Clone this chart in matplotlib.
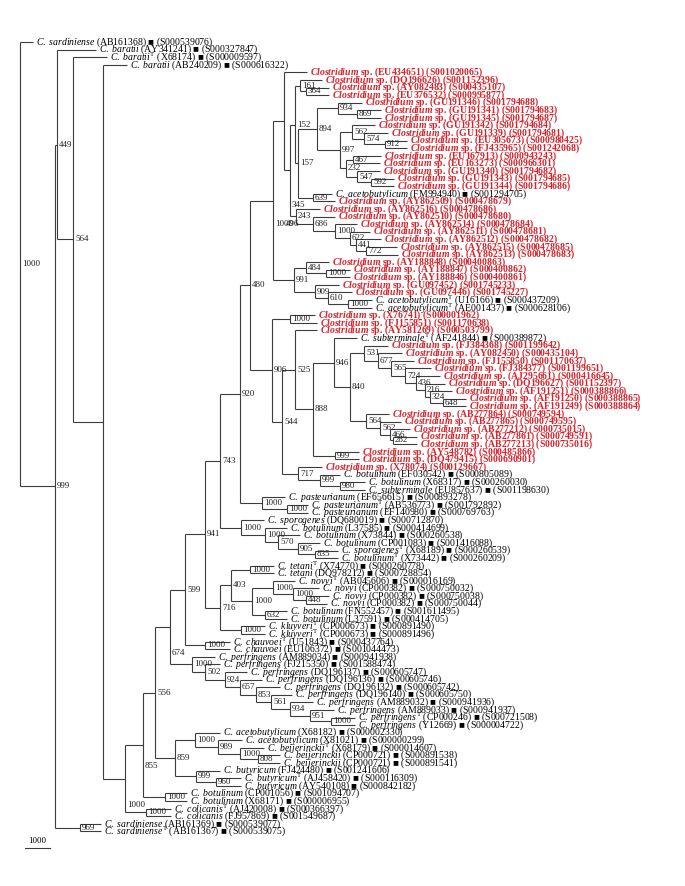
import re
import matplotlib
matplotlib.use("Agg")
import matplotlib.pyplot as plt

plt.rcParams['font.family'] = ['Liberation Serif', 'DejaVu Serif']
plt.rcParams['mathtext.fontset'] = 'custom'
plt.rcParams['mathtext.rm'] = 'Liberation Serif'
plt.rcParams['mathtext.it'] = 'Liberation Serif:italic'
plt.rcParams['mathtext.bf'] = 'Liberation Serif:bold'
try:
    plt.rcParams['mathtext.bfit'] = 'Liberation Serif:italic:bold'
except KeyError:
    pass

# ---------------- leaf data (top to bottom) ----------------
leaf_species = (
    ["C. sardiniense", "C. baratii", "C. baratii", "C. baratii"]
    + ["Clostridium sp."] * 16
    + ["C. acetobutylicum"]
    + ["Clostridium sp."] * 13
    + ["C. acetobutylicum", "C. acetobutylicum"]
    + ["Clostridium sp."] * 3
    + ["C. subterminale"]
    + ["Clostridium sp."] * 17
    + ["C. botulinum", "C. botulinum", "C. subterminale",
       "C. pasteurianum", "C. pasteurianum", "C. pasteurianum",
       "C. sporogenes", "C. botulinum", "C. botulinum", "C. botulinum",
       "C. sporogenes", "C. botulinum", "C. tetani", "C. tetani",
       "C. novyi", "C. novyi", "C. novyi", "C. novyi",
       "C. botulinum", "C. botulinum", "C. kluyveri", "C. kluyveri",
       "C. chauvoei", "C. chauvoei"]
    + ["C. perfringens"] * 10
    + ["C. acetobutylicum", "C. acetobutylicum", "C. beijerinckii",
       "C. beijerinckii", "C. beijerinckii", "C. butyricum", "C. butyricum",
       "C. butyricum", "C. botulinum", "C. botulinum", "C. colicanis",
       "C. colicanis", "C. sardiniense", "C. sardiniense"]
)
leaf_type_strain = [0, 0, 1, 0] + [0] * 16 + [0] + [0] * 13 + [1, 1] + [0] * 3 + [1] + [0] * 17 + [
    0, 0, 0, 0, 1, 0, 0, 0, 0, 0, 1, 1, 1, 0, 1, 0, 0, 0, 0, 0, 1, 1, 1, 0,
    0, 0, 0, 0, 0, 0, 0, 0, 1, 0,
    0, 0, 1, 0, 0, 0, 1, 0, 0, 0, 1, 0, 0, 1]
leaf_accession = [
    "AB161368", "AY341241", "X68174", "AB240209", "EU434651", "DQ196626", "AY082483",
    "EU376532", "GU191346", "GU191341", "GU191345", "GU191342", "GU191339", "EU305673",
    "FJ435965", "EU167913", "EU163273", "GU191340", "GU191343", "GU191344", "FM994940",
    "AY862509", "AY862516", "AY862510", "AY862514", "AY862511", "AY862512", "AY862515",
    "AY862513", "AY188848", "AY188847", "AY188846", "GU097452", "GU097446", "U16166",
    "AE001437", "X76741", "FJ155851", "AY581269", "AF241844", "FJ384368", "AY082450",
    "FJ155850", "FJ384377", "AJ295661", "DQ196627", "AF191251", "AF191250", "AF191249",
    "AB277864", "AB277865", "AB277212", "AB277861", "AB277213", "AY548782", "DQ479415",
    "X78074", "EF030542", "X68317", "EU857637", "EF656615", "AB536773", "EF140980",
    "DQ680019", "L37585", "X73844", "CP001083", "X68189", "X73442", "X74770", "DQ978212",
    "AB045606", "CP000382", "CP000382", "CP000382", "FN552457", "L37591", "CP000673",
    "CP000673", "U51843", "EU106372", "AM889034", "FJ215350", "DQ196137", "DQ196136",
    "DQ196132", "DQ196140", "AM889032", "AM889033", "CP000246", "Y12669", "X68182",
    "X81021", "X68179", "CP000721", "CP000721", "FJ424480", "AJ458420", "AY540108",
    "CP001056", "X68171", "AJ420008", "FJ957869", "AB161369", "AB161367"]
leaf_seq_id = [
    "S000539076", "S000327847", "S000009597", "S000616322", "S001020065", "S001152396",
    "S000435107", "S000995877", "S001794688", "S001794683", "S001794687", "S001794684",
    "S001794681", "S000980425", "S001242068", "S000943243", "S000966301", "S001794682",
    "S001794685", "S001794686", "S001294705", "S000478679", "S000478686", "S000478680",
    "S000478684", "S000478681", "S000478682", "S000478685", "S000478683", "S000400863",
    "S000400862", "S000400861", "S001745233", "S001745227", "S000437209", "S000628106",
    "S000001962", "S001170638", "S000503799", "S000389872", "S001199642", "S000435104",
    "S001170637", "S001199651", "S000416645", "S001152397", "S000388866", "S000388865",
    "S000388864", "S000749594", "S000749595", "S000735015", "S000749591", "S000735016",
    "S000485866", "S000690901", "S000129667", "S000805089", "S000260030", "S001198630",
    "S000893278", "S001792892", "S000769763", "S000712870", "S000414699", "S000260538",
    "S001416088", "S000260539", "S000260209", "S000260778", "S000728854", "S000016169",
    "S000750032", "S000750038", "S000750044", "S001611495", "S000414705", "S000891490",
    "S000891496", "S000437764", "S001044473", "S000941938", "S001588474", "S000605747",
    "S000605746", "S000605742", "S000605750", "S000941936", "S000941937", "S000721508",
    "S000004722", "S000002330", "S000000299", "S000014607", "S000891538", "S000891541",
    "S001241606", "S000116309", "S000842182", "S001094707", "S000006955", "S000366397",
    "S001549687", "S000539077", "S000539075"]

# ---------------- tree (node label = bootstrap, number after ':' = distance from origin) ----------------
clade_894 = ("((L9:362,(L10:381,L11:381)869:357)934:338,"
             "((L12:375,(L13:388,(L14:407,L15:407)912:385)574:364)562:352,"
             "((L16:381,L17:380)467:353,(L18:380,(L19:394,L20:394)592:371)547:357)232:346)997:340)894:317")
clade_152 = ("((L6:322,(L7:329,L8:329)364:306)161:300,(" + clade_894 +
             ",(L21:332,L22:335)639:313)157:298)152:295")
clade_243 = ("(L23:320,(L24:335,(L25:357,(L26:370,(L27:381,"
             "(L28:397,L29:398)772:366)441:356)622:350)1000:335)686:313)243:296")
clade_991 = ("((L30:329,(L31:350,L32:350)1000:326)484:306,"
             "(L33:339,(L34:352,(L35:372,L36:372)1000:348)610:328)909:315)991:294")
clade_1000a = "((L5:307,(" + clade_152 + "," + clade_243 + ")345:290)496:284," + clade_991 + ")1000:273"
clade_840 = ("((L41:388,(L42:402,(L43:414,(L44:431,(L45:440,(L46:445,(L47:452,(L48:466,L49:466)648:443)"
             "324:430)216:425)436:416)724:405)565:391)677:378)531:364,"
             "(L50:389,(L51:401,(L52:410,(L53:417,L54:417)282:393)466:390)562:380)564:366)840:350")
clade_525 = "(L39:317,((L40:357," + clade_840 + ")946:334,(L55:359,L56:359)999:335)888:313)525:295"
clade_717 = "(L57:322,(L58:340,(L59:365,L60:365)980:340)999:320)717:298"
clade_906 = "((L37:315,L38:317)1000:290,(" + clade_525 + "," + clade_717 + ")544:282)906:272"
clade_920 = "((" + clade_1000a + "," + clade_906 + ")480:250,(L61:285,(L62:308,L63:308)1000:287)1000:262)920:240"
clade_spor = "(L64:264,(L65:287,(L66:300,(L67:320,(L68:338,L69:338)835:315)905:298)570:278)1000:265)1000:241"
clade_716 = ("(((L70:274,L71:274)1000:250,((L72:295,(L73:319,(L74:329,L75:327)448:306)1000:293)1000:273,"
             "(L76:287,L77:287)632:265)1000:252)403:231,(L78:265,L79:265)1000:241)716:220")
clade_599 = "(((" + clade_920 + "," + clade_spor + ")743:220," + clade_716 + ")941:205,(L80:230,L81:230)1000:205)599:185"
clade_perf = ("(L82:215,(L83:220,(L84:247,(L85:262,(L86:280,(L87:292,(L88:313,(L89:334,"
              "(L90:355,L91:355)1000:331)951:310)934:290)561:271)853:256)657:240)924:225)502:205)1000:192")
clade_859 = ("((L92:220,(L93:242,(L94:264,(L95:280,L96:280)808:258)1000:240)989:218)1000:195,"
             "(L97:220,(L98:241,L99:241)960:216)999:196)859:175")
clade_855 = "(((" + clade_599 + "," + clade_perf + ")674:170," + clade_859 + ")556:155,(L100:187,L101:187)1000:165)855:143"
clade_125 = "(" + clade_855 + ",(L102:171,L103:171)1000:146)1000:125"
tree_newick = ("(L1:33,((L2:96,(L3:107,(L4:127," + clade_125 + "):103)564:73)449:57,"
               "(L104:101,L105:101)969:80)999:55)1000:20;")

scale_bar_length = 25
scale_bar_label = "1000"


def parse_newick(s):
    pos = 0
    tok = re.compile(r'([^:,();]*)(?::([-\d.]+))?')

    def node():
        nonlocal pos
        children = []
        if s[pos] == '(':
            pos += 1
            while True:
                children.append(node())
                if s[pos] == ',':
                    pos += 1
                    continue
                if s[pos] == ')':
                    pos += 1
                    break
        m = tok.match(s, pos)
        pos = m.end()
        return {'name': m.group(1), 'x': float(m.group(2)), 'children': children}

    return node()


root = parse_newick(tree_newick)

W, H = 685, 886
top_px, step_px = 42.0, 7.59


def assign_y(n):
    if not n['children']:
        n['y'] = int(n['name'][1:]) - 1
    else:
        for c in n['children']:
            assign_y(c)
        n['y'] = (n['children'][0]['y'] + n['children'][-1]['y']) / 2.0


assign_y(root)

fig = plt.figure(figsize=(W / 100, H / 100), dpi=100)
ax = fig.add_axes([0, 0, 1, 1])
ax.set_xlim(0, W)
n_leaves = len(leaf_accession)
ax.set_ylim((H - top_px) / step_px, -top_px / step_px)
ax.axis('off')

LC = '#3c3c3c'
LW = 0.8
RED = '#d9232b'
FS = 7.0
FSB = 6.5

segments = []
internal = []


def collect(n):
    if not n['children']:
        return
    internal.append(n)
    ys = [c['y'] for c in n['children']]
    segments.append((n['x'], n['x'], min(ys), max(ys)))
    for c in n['children']:
        segments.append((n['x'], c['x'], c['y'], c['y']))
        collect(c)


collect(root)

for (x0, x1, y0, y1) in segments:
    ax.plot([x0, x1], [y0, y1], color=LC, lw=LW, solid_capstyle='butt')


def leaf_text(i):
    acc, sid = leaf_accession[i], leaf_seq_id[i]
    if leaf_species[i].startswith("Clostridium"):
        return r"$\mathbfit{Clostridium}$" + " sp. (" + acc + ") (" + sid + ")", True
    name = r"$\mathit{" + leaf_species[i].replace(" ", r"\ ") + "}"
    if leaf_type_strain[i]:
        name += r"^{\mathrm{T}}"
    name += "$"
    return name + " (" + acc + ") \u25a0 (" + sid + ")", False


def draw_leaves(n):
    if not n['children']:
        i = int(n['name'][1:]) - 1
        txt, novel = leaf_text(i)
        ax.text(n['x'] + 3, n['y'], txt, fontsize=FS, va='center', ha='left',
                color=RED if novel else 'black', fontweight='bold' if novel else 'normal')
        return
    for c in n['children']:
        draw_leaves(c)


draw_leaves(root)

# bootstrap values: right of the node; pushed below any vertical branch running through them
verticals = [(x0, y0, y1) for (x0, x1, y0, y1) in segments if x0 == x1]
margin = 3.0 / step_px
drop = 7.5 / step_px
for n in internal:
    if not n['name']:
        continue
    lx0 = n['x'] + 2
    lx1 = lx0 + 4.4 * len(n['name'])
    ly = n['y']
    moved = True
    while moved:
        moved = False
        for (vx, y0, y1) in verticals:
            if lx0 < vx < lx1 and y0 + margin < ly < y1 - margin:
                ly = y1 + drop
                moved = True
    ax.text(lx0, ly, n['name'], fontsize=FSB, va='center', ha='left', color='#222222')

# scale bar
sb_y = n_leaves + 1.2
ax.plot([25, 25 + scale_bar_length], [sb_y, sb_y], color=LC, lw=LW)
ax.text(25 + scale_bar_length / 2, sb_y - 0.4, scale_bar_label, fontsize=FSB, ha='center', va='bottom')

fig.savefig("out.png", dpi=100)
